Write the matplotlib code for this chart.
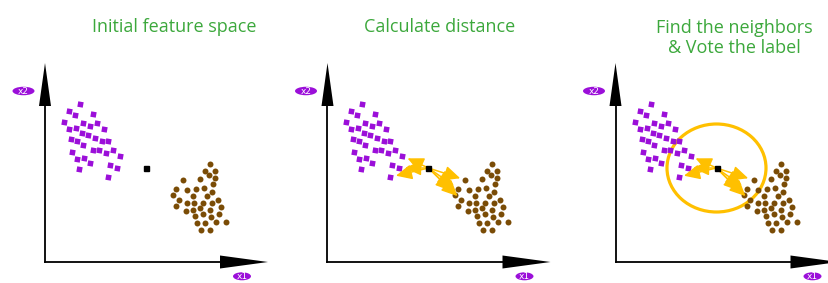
import matplotlib.pyplot as plt
from matplotlib.patches import Ellipse, Polygon

# class A (purple squares), feature coordinates
purple_x1 = [3.5, 2.4, 3.0, 4.8, 1.9, 3.8, 4.5, 5.2, 2.4, 3.1, 3.7, 4.3, 5.0, 5.9, 2.6, 3.2,
             3.8, 5.7, 6.3, 4.8, 5.4, 6.1, 6.8, 2.7, 7.5, 3.2, 3.9, 4.5, 6.5, 7.2, 3.4, 6.3]
purple_x2 = [15.8, 15.1, 14.7, 14.8, 14.0, 13.9, 13.6, 13.9, 13.3, 13.4, 12.9, 12.7, 12.4, 13.3, 12.3, 12.1,
             11.7, 12.1, 12.1, 11.2, 11.2, 10.9, 11.2, 11.0, 10.6, 10.3, 10.4, 9.9, 9.7, 9.4, 9.3, 8.5]

# class B (brown dots)
brown_x1 = [16.5, 16.0, 17.0, 16.4, 17.0, 13.8, 15.5, 16.8, 13.1, 14.2, 15.1, 15.9, 16.7, 12.8, 14.8, 16.2,
            13.4, 17.3, 14.2, 14.9, 15.8, 16.7, 13.1, 15.5, 14.8, 14.1, 17.6, 16.5, 15.8, 15.0, 16.6, 17.4,
            15.2, 16.0, 17.1, 18.1, 15.6, 16.5]
brown_x2 = [9.8, 9.1, 9.1, 8.7, 8.4, 8.2, 8.3, 7.8, 7.3, 7.2, 7.3, 7.4, 7.0, 6.7, 6.6, 6.6,
            6.2, 6.2, 5.9, 5.9, 5.9, 5.9, 5.6, 5.4, 5.2, 5.1, 5.5, 5.2, 4.8, 4.6, 4.5, 4.8,
            3.9, 3.9, 4.0, 4.0, 3.2, 3.2]

# new point to classify
query = (10.1, 9.4)

# nearest neighbours (indices into the lists above)
near_purple = [24, 29, 31]
near_brown = [5, 8, 13, 16]

titles = ["Initial feature space", "Calculate distance", "Find the neighbors\n& Vote the label"]
title_x = [12.9, 11.2, 11.85]
title_y = [23.5, 23.5, 22.4]

x_len, y_len = 22.3, 19.9

PURPLE = "#9b0fd9"
BROWN = "#7a4c06"
ORANGE = "#ffc000"
GREEN = "#3ca83c"

W, H = 829, 283
fig = plt.figure(figsize=(W / 100, H / 100), dpi=100)
offsets = [0, 282.5, 570.5]

for i, off in enumerate(offsets):
    ax = fig.add_axes([off / W, 0, 283 / W, 1])
    ax.set_xlim(-4.5, 23.8)
    ax.set_ylim(-2.1, 26.2)
    ax.axis("off")

    # axes with arrow heads
    ax.plot([0, 0], [0, y_len - 3], color="black", lw=1.3)
    ax.plot([0, x_len - 4], [0, 0], color="black", lw=1.3)
    ax.add_patch(Polygon([(-0.6, y_len - 4.3), (0.6, y_len - 4.3), (0, y_len)], closed=True,
                         color="black", lw=0))
    ax.add_patch(Polygon([(x_len - 4.8, -0.65), (x_len - 4.8, 0.65), (x_len, 0)], closed=True,
                         color="black", lw=0))
    ax.add_patch(Ellipse((-2.15, 17.1), 2.2, 0.85, color=PURPLE, lw=0))
    ax.text(-2.15, 17.1, "x2", color="white", fontsize=6.5, ha="center", va="center")
    ax.add_patch(Ellipse((19.7, -1.43), 1.8, 0.8, color=PURPLE, lw=0))
    ax.text(19.7, -1.43, "x1", color="white", fontsize=6.5, ha="center", va="center")

    ax.plot(purple_x1, purple_x2, ls="none", marker=(4, 0, 35), ms=5.6, color=PURPLE, mew=0)
    ax.plot(brown_x1, brown_x2, ls="none", marker="o", ms=4.3, color=BROWN, mew=0)

    if i > 0:
        targets = [(purple_x1[k], purple_x2[k]) for k in near_purple] + \
                  [(brown_x1[k], brown_x2[k]) for k in near_brown]
        for t in targets:
            ax.annotate("", xy=t, xytext=query,
                        arrowprops=dict(arrowstyle="-|>,head_length=0.75,head_width=0.35",
                                        color=ORANGE, lw=1.1, shrinkA=0, shrinkB=4,
                                        mutation_scale=13))
    if i == 2:
        ax.add_patch(Ellipse(query, 9.9, 8.8, fill=False, ec=ORANGE, lw=2.3))

    ax.plot([query[0]], [query[1]], ls="none", marker="s", ms=3.6, color="black", zorder=5)

    ax.text(title_x[i], title_y[i], titles[i], color=GREEN, fontsize=13, family="Open Sans",
            ha="center", va="center", linespacing=1.15)

fig.savefig("out.png", dpi=100)
